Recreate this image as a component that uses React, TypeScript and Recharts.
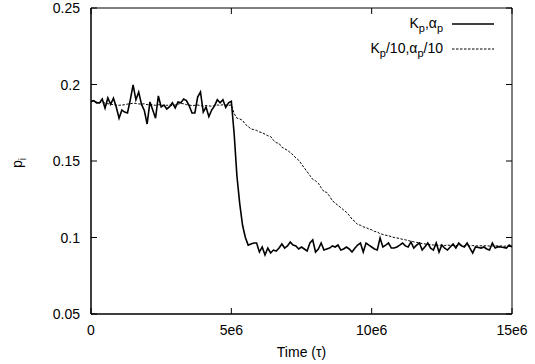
import React from 'react';
import { LineChart, Line, XAxis, YAxis, ReferenceArea, Legend } from 'recharts';

// sample spacing of the simulation output (time units)
const TIME_STEP = 100000;

// p_i for K_p, alpha_p (solid)
const SOLID_KP = [
  0.189, 0.1895, 0.188, 0.188, 0.1905, 0.1846, 0.1912, 0.187, 0.191, 0.1853,
  0.178, 0.1833, 0.182, 0.1814, 0.19, 0.1997, 0.19, 0.1951, 0.187, 0.183,
  0.1742, 0.1886, 0.1833, 0.178, 0.1925, 0.1853, 0.1866, 0.184, 0.1855, 0.188,
  0.1846, 0.1886, 0.188, 0.1905, 0.1895, 0.186, 0.1814, 0.1814, 0.1918, 0.1951,
  0.182, 0.1853, 0.179, 0.1833, 0.186, 0.19, 0.188, 0.19, 0.185, 0.188,
  0.189, 0.168, 0.14, 0.122, 0.108, 0.1, 0.095, 0.0958, 0.0964, 0.0964,
  0.0905, 0.0938, 0.0886, 0.0931, 0.0899, 0.0918, 0.0912, 0.0931, 0.0958, 0.0931,
  0.0945, 0.097, 0.0951, 0.0945, 0.0925, 0.0938, 0.0925, 0.0912, 0.0964, 0.0984,
  0.0905, 0.0925, 0.0964, 0.0918, 0.0925, 0.0931, 0.0945, 0.0938, 0.0951, 0.0918,
  0.0925, 0.0938, 0.0925, 0.0905, 0.093, 0.0951, 0.0964, 0.0905, 0.0964, 0.095,
  0.0938, 0.0925, 0.0918, 0.0997, 0.0938, 0.095, 0.0964, 0.0931, 0.0931, 0.0938,
  0.095, 0.0964, 0.0945, 0.0938, 0.0971, 0.0931, 0.095, 0.0964, 0.0918, 0.094,
  0.0964, 0.093, 0.0918, 0.0964, 0.0905, 0.0951, 0.093, 0.0918, 0.0938, 0.0958,
  0.0931, 0.0964, 0.0945, 0.0938, 0.0964, 0.093, 0.0899, 0.0938, 0.0935, 0.0931,
  0.0938, 0.0925, 0.0918, 0.0964, 0.0931, 0.094, 0.0938, 0.0935, 0.0931, 0.0951,
  0.0938,
];

// p_i for K_p/10, alpha_p/10 (dashed)
const DASHED_KP10 = [
  0.189, 0.1888, 0.1885, 0.1882, 0.1886, 0.1878, 0.1874, 0.1872, 0.1868, 0.1866,
  0.1864, 0.1866, 0.1868, 0.1872, 0.1874, 0.1878, 0.1876, 0.1873, 0.1872, 0.1874,
  0.1868, 0.1871, 0.1866, 0.1864, 0.1868, 0.1866, 0.1862, 0.1864, 0.1866, 0.1862,
  0.1866, 0.1872, 0.1876, 0.1874, 0.1868, 0.1866, 0.1862, 0.1864, 0.1866, 0.1862,
  0.1858, 0.1862, 0.186, 0.1858, 0.1862, 0.1866, 0.1864, 0.1868, 0.1866, 0.1864,
  0.1866, 0.181, 0.178, 0.1775, 0.1765, 0.174, 0.1725, 0.171, 0.1705, 0.17,
  0.169, 0.1685, 0.1675, 0.1665, 0.166, 0.1635, 0.162, 0.1615, 0.159, 0.158,
  0.157, 0.1555, 0.154, 0.152, 0.1505, 0.148, 0.1455, 0.143, 0.1405, 0.138,
  0.137, 0.1355, 0.1325, 0.13, 0.1295, 0.127, 0.124, 0.1225, 0.121, 0.1195,
  0.118, 0.1165, 0.1145, 0.112, 0.1105, 0.1085, 0.108, 0.107, 0.1065, 0.1055,
  0.105, 0.104, 0.1036, 0.1025, 0.102, 0.1015, 0.1012, 0.1005, 0.1, 0.0997,
  0.0993, 0.0988, 0.0985, 0.098, 0.0975, 0.0972, 0.0968, 0.0965, 0.096, 0.0958,
  0.0955, 0.0953, 0.0951, 0.095, 0.0949, 0.095, 0.0948, 0.095, 0.0949, 0.0947,
  0.0948, 0.0947, 0.0949, 0.0946, 0.0947, 0.0945, 0.0947, 0.0946, 0.0944, 0.0946,
  0.0945, 0.0946, 0.0944, 0.0945, 0.0946, 0.0944, 0.0945, 0.0943, 0.0944, 0.0945,
  0.0944,
];

const X_TICKS = [0, 5e6, 10e6, 15e6];
const X_TICK_LABELS = ['0', '5e6', '10e6', '15e6'];
const Y_TICKS = [0.05, 0.1, 0.15, 0.2, 0.25];
const Y_TICK_LABELS = ['0.05', '0.1', '0.15', '0.2', '0.25'];
const X_DOMAIN = [0, 15e6];
const Y_DOMAIN = [0.05, 0.25];

type Seg = { t: string; sub?: boolean };
const LEGEND_SOLID: Seg[] = [{ t: 'K' }, { t: 'p', sub: true }, { t: ',α' }, { t: 'p', sub: true }];
const LEGEND_DASHED: Seg[] = [
  { t: 'K' }, { t: 'p', sub: true }, { t: '/10,α' }, { t: 'p', sub: true }, { t: '/10' },
];

const data = SOLID_KP.map((v, i) => ({ t: i * TIME_STEP, solid: v, dashed: DASHED_KP10[i] }));

// layout
const W = 535;
const H = 364;
const PLOT_LEFT = 91;
const PLOT_TOP = 8;
const PLOT_RIGHT = 512;
const PLOT_BOTTOM = 314;
const TICK_LEN = 6;
const FONT = '"Liberation Sans", Arial, Helvetica, sans-serif';
const FS = 14;
const DASH = '2.5 1.5';

const XTick = (props: any) => {
  const { x, payload } = props;
  const i = X_TICKS.indexOf(payload.value);
  return (
    <g>
      <line x1={x} y1={PLOT_BOTTOM} x2={x} y2={PLOT_BOTTOM - TICK_LEN} stroke="#000" />
      <line x1={x} y1={PLOT_TOP} x2={x} y2={PLOT_TOP + TICK_LEN} stroke="#000" />
      <text x={x} y={PLOT_BOTTOM + 11} dy="0.71em" textAnchor="middle" fontSize={FS} fontFamily={FONT} fill="#000">
        {i >= 0 ? X_TICK_LABELS[i] : String(payload.value)}
      </text>
    </g>
  );
};

const YTick = (props: any) => {
  const { y, payload } = props;
  const i = Y_TICKS.indexOf(payload.value);
  return (
    <g>
      <line x1={PLOT_LEFT} y1={y} x2={PLOT_LEFT + TICK_LEN} y2={y} stroke="#000" />
      <line x1={PLOT_RIGHT} y1={y} x2={PLOT_RIGHT - TICK_LEN} y2={y} stroke="#000" />
      <text x={PLOT_LEFT - 11} y={y} dy="0.36em" textAnchor="end" fontSize={FS} fontFamily={FONT} fill="#000">
        {i >= 0 ? Y_TICK_LABELS[i] : String(payload.value)}
      </text>
    </g>
  );
};

const XLabel = (props: any) => {
  const vb = props.viewBox || { x: PLOT_LEFT, width: PLOT_RIGHT - PLOT_LEFT };
  const cx = vb.x + vb.width / 2;
  return (
    <text x={cx} y={357} textAnchor="middle" fontSize={FS} fontFamily={FONT} fill="#000">
      Time (τ)
    </text>
  );
};

const YLabel = (props: any) => {
  const vb = props.viewBox || { y: PLOT_TOP, height: PLOT_BOTTOM - PLOT_TOP };
  const cy = vb.y + vb.height / 2 + 2;
  const bx = 22;
  return (
    <text x={bx} y={cy} transform={`rotate(-90 ${bx} ${cy})`} textAnchor="middle" fontSize={FS} fontFamily={FONT} fill="#000">
      p<tspan dy={3.5} fontSize={10.5}>i</tspan>
    </text>
  );
};

const renderSegs = (segs: Seg[]) => {
  const out: React.ReactNode[] = [];
  let shifted = false;
  segs.forEach((s, k) => {
    if (s.sub) {
      out.push(<tspan key={k} dy={shifted ? 0 : 3.5} fontSize={11}>{s.t}</tspan>);
      shifted = true;
    } else {
      out.push(<tspan key={k} dy={shifted ? -3.5 : 0} fontSize={FS}>{s.t}</tspan>);
      shifted = false;
    }
  });
  return out;
};

const LegendContent = () => {
  const items = [
    { segs: LEGEND_SOLID, base: 28, dash: undefined as string | undefined, sw: 1.6 },
    { segs: LEGEND_DASHED, base: 53, dash: DASH, sw: 1 },
  ];
  return (
    <svg width={W} height={64} style={{ display: 'block', overflow: 'visible' }}>
      {items.map((it, i) => (
        <g key={i}>
          <text x={443} y={it.base} textAnchor="end" fontSize={FS} fontFamily={FONT} fill="#000">
            {renderSegs(it.segs)}
          </text>
          <line x1={452} x2={494} y1={it.base - 4} y2={it.base - 4} stroke="#000" strokeWidth={it.sw} strokeDasharray={it.dash} />
        </g>
      ))}
    </svg>
  );
};

export default function App() {
  return (
    <div style={{ position: 'absolute', left: 0, top: 0, width: W, height: H, background: '#fff', fontFamily: FONT }}>
      <LineChart width={W} height={H} data={data} margin={{ top: PLOT_TOP, right: W - PLOT_RIGHT, bottom: 0, left: 0 }}>
        <XAxis
          type="number"
          dataKey="t"
          domain={X_DOMAIN}
          ticks={X_TICKS}
          interval={0}
          allowDataOverflow
          height={H - PLOT_BOTTOM}
          tickLine={false}
          tickSize={0}
          axisLine={{ stroke: '#000' }}
          tick={<XTick />}
          label={{ content: <XLabel /> }}
        />
        <YAxis
          type="number"
          domain={Y_DOMAIN}
          ticks={Y_TICKS}
          interval={0}
          allowDataOverflow
          width={PLOT_LEFT}
          tickLine={false}
          tickSize={0}
          axisLine={{ stroke: '#000' }}
          tick={<YTick />}
          label={{ content: <YLabel /> }}
        />
        <ReferenceArea
          x1={X_DOMAIN[0]}
          x2={X_DOMAIN[1]}
          y1={Y_DOMAIN[0]}
          y2={Y_DOMAIN[1]}
          fill="none"
          fillOpacity={0}
          stroke="#000"
          strokeWidth={1}
          ifOverflow="visible"
        />
        <Line type="linear" dataKey="dashed" stroke="#000" strokeWidth={1} strokeDasharray={DASH} dot={false} isAnimationActive={false} />
        <Line type="linear" dataKey="solid" stroke="#000" strokeWidth={1.6} dot={false} isAnimationActive={false} />
        <Legend
          layout="horizontal"
          verticalAlign="middle"
          align="center"
          content={<LegendContent />}
          wrapperStyle={{ position: 'absolute', top: 0, left: 0, width: W, height: 64, pointerEvents: 'none' }}
        />
      </LineChart>
    </div>
  );
}
